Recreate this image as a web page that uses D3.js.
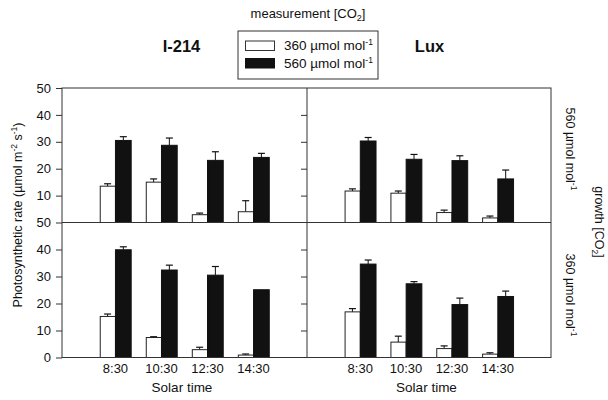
<!DOCTYPE html>
<html><head><meta charset="utf-8">
<script src="https://cdn.jsdelivr.net/npm/d3@7"></script>
<style>
body{margin:0;background:#fff;}
text{font-family:"Liberation Sans",Arial,sans-serif;fill:#111;}
</style></head>
<body>
<svg id="c" width="608" height="400"></svg>
<script>
const times = ["8:30","10:30","12:30","14:30"];
const cultivars = ["I-214","Lux"];
const growthLevels = ["560","360"];
const series = ["360","560"];
const yTicks = [0,10,20,30,40,50];

// values: white = 360 measurement, black = 560 measurement
const i214_g560_m360 = [13.5, 15.0, 2.9, 4.0];
const i214_g560_m360_err = [0.9, 1.2, 0.6, 4.1];
const i214_g560_m560 = [30.5, 28.7, 23.1, 24.2];
const i214_g560_m560_err = [1.4, 2.7, 3.2, 1.5];
const lux_g560_m360 = [11.7, 10.9, 3.7, 1.7];
const lux_g560_m360_err = [0.8, 0.8, 0.9, 0.7];
const lux_g560_m560 = [30.3, 23.5, 23.0, 16.2];
const lux_g560_m560_err = [1.3, 1.8, 1.8, 3.3];
const i214_g360_m360 = [15.2, 7.4, 2.9, 0.9];
const i214_g360_m360_err = [0.9, 0.3, 0.9, 0.4];
const i214_g360_m560 = [39.9, 32.4, 30.5, 25.1];
const i214_g360_m560_err = [1.1, 1.8, 3.2, 0];
const lux_g360_m360 = [16.9, 5.7, 3.3, 1.25];
const lux_g360_m360_err = [1.2, 2.2, 1.0, 0.5];
const lux_g360_m560 = [34.6, 27.3, 19.6, 22.6];
const lux_g360_m560_err = [1.5, 0.8, 2.4, 2.0];

const panels = [
  {c:0,g:0,w:i214_g560_m360,we:i214_g560_m360_err,b:i214_g560_m560,be:i214_g560_m560_err},
  {c:1,g:0,w:lux_g560_m360,we:lux_g560_m360_err,b:lux_g560_m560,be:lux_g560_m560_err},
  {c:0,g:1,w:i214_g360_m360,we:i214_g360_m360_err,b:i214_g360_m560,be:i214_g360_m560_err},
  {c:1,g:1,w:lux_g360_m360,we:lux_g360_m360_err,b:lux_g360_m560,be:lux_g360_m560_err}
];

const svg = d3.select("#c");
const L = 62, M = 307, R = 551, T = 88, MY = 222.5, B = 357.5;
const lineCol = "#333";

const xOuter = [d3.scaleBand().domain(times).range([L, M]).paddingInner(0.317).paddingOuter(0.82),
                d3.scaleBand().domain(times).range([M, R]).paddingInner(0.317).paddingOuter(0.82)];
const xInner = d3.scaleBand().domain(series).range([0, xOuter[0].bandwidth()]);
const yS = [d3.scaleLinear().domain([0,50]).range([MY, T]),
            d3.scaleLinear().domain([0,50]).range([B, MY])];

// bars
panels.forEach(p => {
  const x = xOuter[p.c], y = yS[p.g];
  const g = svg.append("g");
  const rows = [];
  times.forEach((t,i) => {
    rows.push({t, s:"360", v:p.w[i], e:p.we[i]});
    rows.push({t, s:"560", v:p.b[i], e:p.be[i]});
  });
  rows.forEach(d => {
    if (d.e <= 0) return;
    const cx = x(d.t) + xInner(d.s) + xInner.bandwidth()/2;
    g.append("line").attr("x1",cx).attr("x2",cx).attr("y1",y(d.v)).attr("y2",y(d.v+d.e))
      .attr("stroke","#111").attr("stroke-width",1);
    g.append("line").attr("x1",cx-3.5).attr("x2",cx+3.5).attr("y1",y(d.v+d.e)).attr("y2",y(d.v+d.e))
      .attr("stroke","#111").attr("stroke-width",1.2);
  });
  g.selectAll("rect").data(rows).join("rect")
    .attr("x", d => x(d.t) + xInner(d.s) + (d.s==="360"?0.5:0))
    .attr("y", d => y(d.v))
    .attr("width", d => xInner.bandwidth() - (d.s==="360"?0.5:0))
    .attr("height", d => y(0) - y(d.v))
    .attr("fill", d => d.s==="360" ? "#fff" : "#111")
    .attr("stroke", d => d.s==="360" ? "#222" : "#111")
    .attr("stroke-width", 1);
});

// frame
svg.append("rect").attr("x",L).attr("y",T).attr("width",R-L).attr("height",B-T)
  .attr("fill","none").attr("stroke",lineCol).attr("stroke-width",1);
svg.append("line").attr("x1",L).attr("x2",R).attr("y1",MY).attr("y2",MY).attr("stroke",lineCol);
svg.append("line").attr("x1",M).attr("x2",M).attr("y1",T).attr("y2",B).attr("stroke",lineCol);

// axes
function styleAxis(g){
  g.select(".domain").remove();
  g.selectAll(".tick line").attr("stroke",lineCol);
  g.selectAll(".tick text").style("font-family","'Liberation Sans',Arial,sans-serif").style("font-size","13px").attr("fill","#111");
}
svg.append("g").attr("transform",`translate(${L},0)`)
  .call(d3.axisLeft(yS[0]).tickValues(yTicks.slice(1)).tickSize(6).tickPadding(5)).call(styleAxis);
svg.append("g").attr("transform",`translate(${L},0)`)
  .call(d3.axisLeft(yS[1]).tickValues(yTicks).tickSize(6).tickPadding(5)).call(styleAxis);
[0,1].forEach(k => {
  svg.append("g").attr("transform",`translate(${M},0)`)
    .call(d3.axisLeft(yS[k]).tickValues(yTicks.slice(1,5)).tickSize(6).tickFormat("")).call(styleAxis);
});

// x tick labels
[0,1].forEach(c => {
  const x = xOuter[c];
  svg.append("g").selectAll("text").data(times).join("text")
    .attr("x", d => x(d) + x.bandwidth()/2).attr("y", 373)
    .attr("text-anchor","middle").style("font-size","13px").text(d => d);
  svg.append("text").attr("x", (x.range()[0]+x.range()[1])/2 - 2.5).attr("y", 392)
    .attr("text-anchor","middle").style("font-size","13.5px").text("Solar time");
});

// cultivar titles
svg.append("text").attr("x",181.5).attr("y",52).attr("text-anchor","middle")
  .style("font-size","16.5px").style("font-weight","bold").text(cultivars[0]);
svg.append("text").attr("x",429.5).attr("y",52).attr("text-anchor","middle")
  .style("font-size","16.5px").style("font-weight","bold").text(cultivars[1]);

// measurement title
const mt = svg.append("text").attr("x",308).attr("y",18).attr("text-anchor","middle").style("font-size","13px");
mt.append("tspan").text("measurement [CO");
mt.append("tspan").attr("dy",3).style("font-size","9px").text("2");
mt.append("tspan").attr("dy",-3).text("]");

// legend
svg.append("rect").attr("x",238).attr("y",31).attr("width",140).attr("height",48)
  .attr("fill","#fff").attr("stroke","#333");
series.forEach((s,i) => {
  const yy = [41,58.5][i];
  svg.append("rect").attr("x",245.5).attr("y",yy).attr("width",29).attr("height",9.5)
    .attr("fill", i===0?"#fff":"#111").attr("stroke", i===0?"#333":"#111");
  const t = svg.append("text").attr("x",284).attr("y",yy+9).style("font-size","13.5px");
  t.append("tspan").text(s + " \u00b5mol mol");
  t.append("tspan").attr("dy",-5).style("font-size","8.5px").text("-1");
});

// y axis label
const yl = svg.append("text").attr("transform","translate(22,215) rotate(-90)")
  .attr("text-anchor","middle").style("font-size","12.5px");
yl.append("tspan").text("Photosynthetic rate (\u00b5mol m");
yl.append("tspan").attr("dy",-5).style("font-size","8.5px").text("-2");
yl.append("tspan").attr("dy",5).text(" s");
yl.append("tspan").attr("dy",-5).style("font-size","8.5px").text("-1");
yl.append("tspan").attr("dy",5).text(")");

// right growth labels
growthLevels.forEach((gl,i) => {
  const cy = [149, 295][i];
  const t = svg.append("text").attr("transform",`translate(566,${cy}) rotate(90)`)
    .attr("text-anchor","middle").style("font-size","12.5px");
  t.append("tspan").text(gl + " \u00b5mol mol");
  t.append("tspan").attr("dy",-5).style("font-size","8.5px").text("-1");
});
const gt = svg.append("text").attr("transform","translate(594.5,222) rotate(90)")
  .attr("text-anchor","middle").style("font-size","12.5px");
gt.append("tspan").text("growth [CO");
gt.append("tspan").attr("dy",3).style("font-size","8.5px").text("2");
gt.append("tspan").attr("dy",-3).text("]");
</script>
</body></html>
